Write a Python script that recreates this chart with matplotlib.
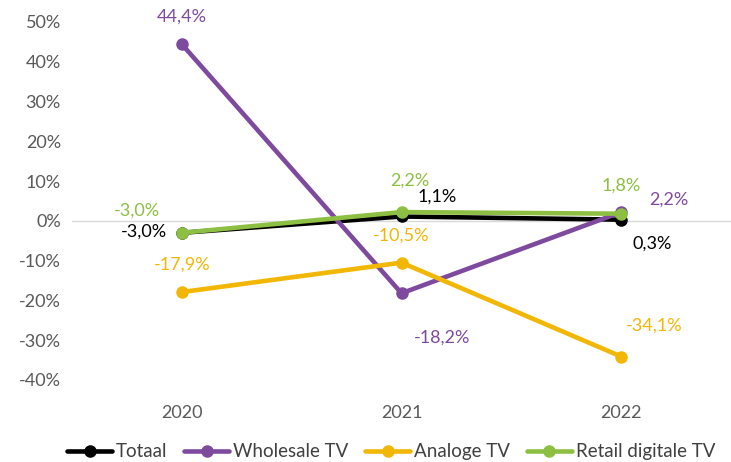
import matplotlib.pyplot as plt

jaren = ["2020", "2021", "2022"]
totaal = [-3.0, 1.1, 0.3]
wholesale = [44.4, -18.2, 2.2]
analoog = [-17.9, -10.5, -34.1]
retail = [-3.0, 2.2, 1.8]

plt.rcParams['font.family'] = ['Lato', 'DejaVu Sans']

# label offsets in points (dx, dy)
series = [
    ("Totaal", totaal, "#000000", [(-27, 1), (26, 14), (22, -17)]),
    ("Wholesale TV", wholesale, "#7E4A9E", [(0, 20), (29, -32), (34, 9)]),
    ("Analoge TV", analoog, "#F2B705", [(0, 20), (0, 19.5), (24, 22)]),
    ("Retail digitale TV", retail, "#8DBF42", [(-32, 16), (6, 23), (0, 20)]),
]

fig = plt.figure(figsize=(7.31, 4.62), dpi=100)
ax = fig.add_axes([0.0985, 0.1775, 0.9015, 0.775])
x = range(len(jaren))

ax.axhline(0, color="#D9D9D9", linewidth=1, zorder=0)
for naam, waarden, kleur, offsets in series:
    ax.plot(x, waarden, color=kleur, linewidth=3.3, marker='o', markersize=8,
            label=naam, solid_capstyle='round')
    for i, v in enumerate(waarden):
        tekst = f"{v:.1f}%".replace(".", ",")
        ax.annotate(tekst, (i, v), xytext=offsets[i], textcoords='offset points',
                    ha='center', va='center', color=kleur, fontsize=13)

ax.set_xlim(-0.5, 2.5)
ax.set_ylim(-40, 50)
ax.set_xticks(list(x))
ax.set_xticklabels(jaren)
ax.set_yticks(range(-40, 51, 10))
ax.set_yticklabels([f"{t}%" for t in range(-40, 51, 10)])
ax.tick_params(length=0, labelsize=13, colors="#595959", pad=8)
ax.tick_params(axis='x', pad=18)
for s in ax.spines.values():
    s.set_visible(False)

fig.legend(loc='center', bbox_to_anchor=(0.535, 0.022), ncol=4, frameon=False,
           fontsize=13.5, handlelength=2.4, columnspacing=0.9, handletextpad=0.2,
           labelcolor="#404040")

fig.savefig("out.png", dpi=100)
